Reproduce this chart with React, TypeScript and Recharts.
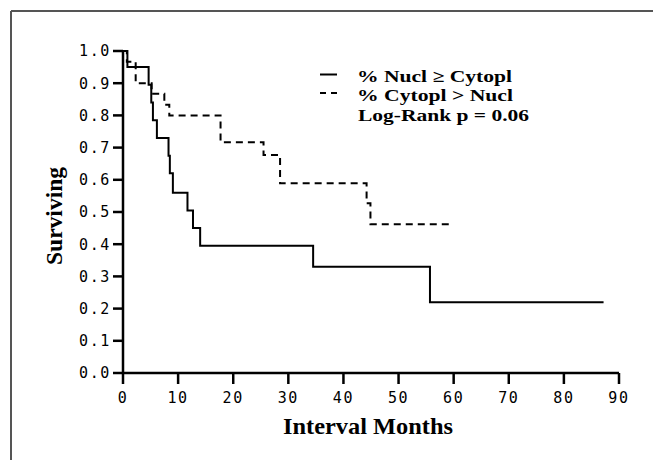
import React from "react";
import { LineChart, Line, XAxis, YAxis } from "recharts";

// Kaplan-Meier step data (months, surviving fraction)
const nuclTimes = [0, 0.8, 4.65, 5.13, 5.43, 6.15, 8.26, 8.5, 9.05, 11.7, 12.7, 14.0, 34.5, 55.7, 87.2];
const nuclSurv = [1.0, 0.95, 0.895, 0.84, 0.785, 0.73, 0.675, 0.62, 0.56, 0.505, 0.45, 0.395, 0.33, 0.22, 0.22];

const cytoTimes = [0, 0.7, 2.3, 5.2, 7.5, 8.4, 17.7, 25.5, 28.5, 44.2, 44.9, 59.6];
const cytoSurv = [1.0, 0.967, 0.9, 0.867, 0.833, 0.8, 0.717, 0.677, 0.589, 0.527, 0.462, 0.462];

const xTicks = [0, 10, 20, 30, 40, 50, 60, 70, 80, 90];
const yTicks = [0, 0.1, 0.2, 0.3, 0.4, 0.5, 0.6, 0.7, 0.8, 0.9, 1.0];

const legendLabels = ["% Nucl \u2265 Cytopl", "% Cytopl > Nucl", "Log-Rank p = 0.06"];
const xTitle = "Interval Months";
const yTitle = "Surviving";

const nuclData = nuclTimes.map((t, i) => ({ t, s: nuclSurv[i] }));
const cytoData = cytoTimes.map((t, i) => ({ t, s: cytoSurv[i] }));

const serif = "'Liberation Serif', 'Times New Roman', serif";
const mono = "'DejaVu Sans Mono', monospace";

const tickStyle = { fontFamily: mono, fontSize: 15, fill: "#000", letterSpacing: 1.6 };

const XTitle = (props: any) => {
  const vb = props.viewBox || {};
  return (
    <text
      x={vb.x + vb.width / 2 - 3}
      y={vb.y + 61}
      textAnchor="middle"
      fontFamily={serif}
      fontWeight="bold"
      fontSize={24}
      textLength={170}
      lengthAdjust="spacingAndGlyphs"
      fill="#000"
    >
      {xTitle}
    </text>
  );
};

const YTitle = (props: any) => {
  const vb = props.viewBox || {};
  const cx = 62;
  const cy = vb.y + vb.height / 2 + 4;
  return (
    <text
      x={cx}
      y={cy}
      transform={`rotate(-90, ${cx}, ${cy})`}
      textAnchor="middle"
      fontFamily={serif}
      fontWeight="bold"
      fontSize={24}
      textLength={98}
      lengthAdjust="spacingAndGlyphs"
      fill="#000"
    >
      {yTitle}
    </text>
  );
};

export default function App() {
  return (
    <div style={{ position: "absolute", left: 0, top: 0, width: 653, height: 460, background: "#fff" }}>
      <LineChart
        width={653}
        height={460}
        margin={{ top: 51, right: 34, left: 0, bottom: 0 }}
        style={{ position: "absolute", left: 0, top: 0 }}
      >
        <XAxis
          type="number"
          dataKey="t"
          domain={[0, 90]}
          ticks={xTicks}
          interval={0}
          height={87}
          axisLine={{ stroke: "#000", strokeWidth: 2.5 }}
          tickLine={{ stroke: "#000", strokeWidth: 2.5 }}
          tickSize={11}
          tickMargin={8}
          tick={tickStyle}
          label={{ content: XTitle }}
        />
        <YAxis
          type="number"
          dataKey="s"
          domain={[0, 1]}
          ticks={yTicks}
          interval={0}
          width={123}
          axisLine={{ stroke: "#000", strokeWidth: 2.5 }}
          tickLine={{ stroke: "#000", strokeWidth: 2.5 }}
          tickSize={10}
          tickMargin={2}
          tick={tickStyle}
          tickFormatter={(v: number) => v.toFixed(1)}
          label={{ content: YTitle }}
        />
        <Line
          data={nuclData}
          dataKey="s"
          type="stepAfter"
          stroke="#000"
          strokeWidth={2}
          dot={false}
          isAnimationActive={false}
        />
        <Line
          data={cytoData}
          dataKey="s"
          type="stepAfter"
          stroke="#000"
          strokeWidth={2}
          strokeDasharray="7 5"
          dot={false}
          isAnimationActive={false}
        />
      </LineChart>
      <svg
        width={653}
        height={460}
        style={{ position: "absolute", left: 0, top: 0, pointerEvents: "none" }}
      >
        <line x1={11} y1={11} x2={653} y2={11} stroke="#555" strokeWidth={2} />
        <line x1={11} y1={11} x2={11} y2={460} stroke="#555" strokeWidth={2} />
        <line x1={320} y1={74.5} x2={337} y2={74.5} stroke="#000" strokeWidth={2} />
        <line x1={320} y1={93} x2={337} y2={93} stroke="#000" strokeWidth={2} strokeDasharray="6 5" />
        <g fontFamily={serif} fontWeight="bold" fontSize={17} fill="#000">
          <text x={357} y={81.5} textLength={155} lengthAdjust="spacingAndGlyphs">{legendLabels[0]}</text>
          <text x={357} y={101} textLength={156} lengthAdjust="spacingAndGlyphs">{legendLabels[1]}</text>
          <text x={358} y={120.5} textLength={171} lengthAdjust="spacingAndGlyphs">{legendLabels[2]}</text>
        </g>
      </svg>
    </div>
  );
}
